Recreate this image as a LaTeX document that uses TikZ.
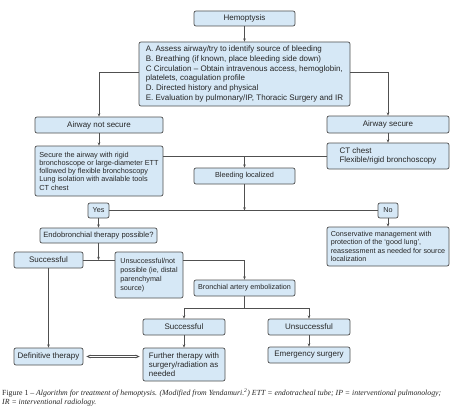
\documentclass[tikz,border=0pt]{standalone}
\usepackage{fontspec}
\setmainfont{Liberation Serif}
\newfontfamily\boxfont{Liberation Sans}
\usetikzlibrary{arrows.meta}
\definecolor{boxfill}{HTML}{D6E8F6}
\definecolor{boxline}{HTML}{505050}
\definecolor{txt}{HTML}{262626}
\begin{document}
\begin{tikzpicture}[x=1pt,y=-1pt,
  box/.style={draw=boxline, fill=boxfill, rounded corners=2pt, line width=0.7pt, inner sep=0pt, text=txt, font=\boxfont\fontsize{8}{9.7}\selectfont},
  fs/.style 2 args={font=\boxfont\fontsize{#1}{#2}\selectfont},
  arr/.style={draw=boxline, line width=0.6pt, -{Stealth[length=3.2pt,width=2.6pt]}},
  ln/.style={draw=boxline, line width=0.6pt},
  dbl/.style={draw=boxline, line width=0.5pt, double=white, double distance=1.2pt, {Stealth[length=4pt,width=3.6pt]}-{Stealth[length=4pt,width=3.6pt]}, shorten <=3pt, shorten >=3pt}]
\useasboundingbox (0,0) rectangle (471,412);
\fill[white] (0,0) rectangle (471,412);

\node[box, minimum width=101pt, minimum height=15pt] (hemo) at (244.5,18.5) {Hemoptysis};
\node[box, minimum width=211pt, minimum height=64pt, align=left] (abc) at (244.5,74)
  {A. Assess airway/try to identify source of bleeding\\
   B. Breathing (if known, place bleeding side down)\\
   C Circulation – Obtain intravenous access, hemoglobin,\\
   platelets, coagulation profile\\
   D. Directed history and physical\\
   E. Evaluation by pulmonary/IP, Thoracic Surgery and IR};
\node[box, minimum width=128pt, minimum height=16pt] (ans) at (99,125) {Airway not secure};
\node[box, minimum width=122pt, minimum height=17pt] (as) at (388,124.5) {Airway secure};
\node[box, fs={7.3}{8.2}, minimum width=128pt, minimum height=50pt, align=left] (sec) at (99,171)
  {Secure the airway with rigid\\
   bronchoscope or large-diameter ETT\\
   followed by flexible bronchoscopy\\
   Lung isolation with available tools\\
   CT chest};
\node[box, minimum width=122pt, minimum height=26pt, align=left] (ct) at (388,156)
  {CT chest\\ Flexible/rigid bronchoscopy};
\node[box, fs={7.3}{8.5}, minimum width=101pt, minimum height=16pt] (bl) at (244.5,176) {Bleeding localized};
\node[box, fs={7.2}{8.5}, minimum width=21pt, minimum height=15pt] (yes) at (98.5,210.5) {Yes};
\node[box, fs={7.2}{8.5}, minimum width=20pt, minimum height=15pt] (no) at (388,210.5) {No};
\node[box, fs={7.6}{8.5}, minimum width=117pt, minimum height=15pt] (endo) at (98.5,235.5) {Endobronchial therapy possible?};
\node[box, fs={7.2}{8.6}, minimum width=122pt, minimum height=39pt, align=left] (cons) at (388,246.5)
  {Conservative management with\\
   protection of the ‘good lung’,\\
   reassessment as needed for source\\
   localization};
\node[box, minimum width=69pt, minimum height=16pt] (succ1) at (48.5,260) {Successful};
\node[box, fs={7.2}{9}, minimum width=68pt, minimum height=46pt, align=left] (unsucc1) at (149,275)
  {Unsuccessful/not\\ possible (ie, distal\\ parenchymal\\ source)};
\node[box, fs={7.2}{8.5}, minimum width=101pt, minimum height=16pt] (bae) at (244.5,288) {Bronchial artery embolization};
\node[box, minimum width=82pt, minimum height=16pt] (succ2) at (184,327) {Successful};
\node[box, minimum width=82pt, minimum height=16pt] (uns2) at (309,327) {Unsuccessful};
\node[box, minimum width=69pt, minimum height=17pt] (def) at (48.5,356.5) {Definitive therapy};
\node[box, fs={7.9}{9.2}, minimum width=82pt, minimum height=33pt, align=left] (fur) at (184,364.5)
  {Further therapy with\\ surgery/radiation as\\ needed};
\node[box, minimum width=82pt, minimum height=16pt] (em) at (309,355) {Emergency surgery};

\node[anchor=base west, inner sep=0pt, text=txt, font=\fontsize{7.8}{9}\selectfont] (cap1) at (2,395.5)
  {Figure 1 – \textit{Algorithm for treatment of hemoptysis. (Modified from Yendamuri.\textsuperscript{2}) ETT = endotracheal tube; IP = interventional pulmonology;}};
\node[anchor=base west, inner sep=0pt, text=txt, font=\fontsize{7.8}{9}\selectfont] (cap2) at (2,404.5)
  {\textit{IR = interventional radiology.}};

\draw[arr] (hemo) -- (abc);
\draw[arr] ([yshift=2pt]abc.west) -| (ans.north);
\draw[arr] ([yshift=2pt]abc.east) -| (as.north);
\draw[arr] (ans) -- (sec);
\draw[arr] (as) -- (ct);
\draw[ln] (sec.east |- ct.west) -- (ct.west);
\draw[arr] (bl.north |- ct.west) -- (bl.north);
\coordinate (j1) at (244.5,210.5);
\draw[arr] (bl.south) -- (j1);
\draw[ln] (yes.east) -- (no.west);
\draw[arr] (yes) -- (endo);
\draw[arr] (no) -- (cons);
\coordinate (j2) at (98.5,260);
\draw[arr] (endo.south) -- (j2);
\draw[ln] (succ1.east) -- (unsucc1.west |- succ1.east);
\draw[arr] (unsucc1.east |- succ1.east) -| (bae.north);
\coordinate (j3) at (244.5,308);
\draw[ln] (bae.south) -- (j3);
\draw[arr] (j3) -| (succ2.north);
\draw[arr] (j3) -| (uns2.north);
\draw[arr] (succ2) -- (fur);
\draw[arr] (uns2) -- (em);
\draw[arr] (succ1) -- (def);
\draw[dbl] (def.east) -- (fur.west |- def.east);
\end{tikzpicture}
\end{document}
